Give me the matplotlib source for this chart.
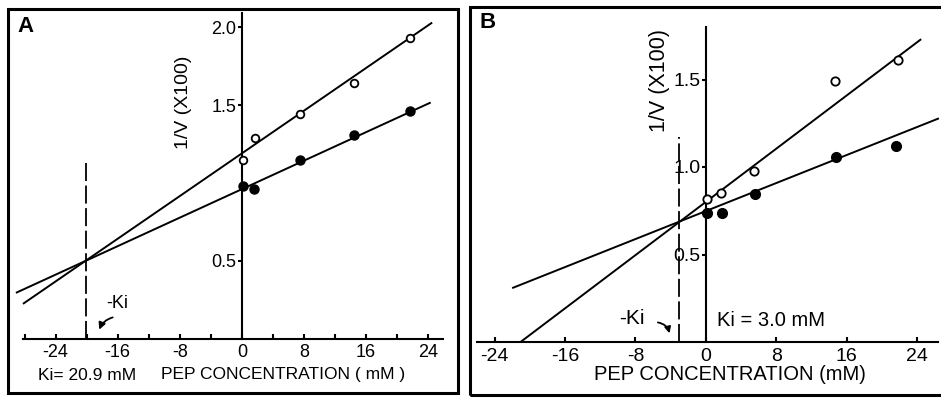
import numpy as np
import matplotlib
matplotlib.use("Agg")
import matplotlib.pyplot as plt
from matplotlib.patches import Rectangle

# Panel A data (PEP concentration in mM, 1/V x100)
pep_a_open = [0.2, 1.7, 7.5, 14.5, 21.7]
inv_v_a_open = [1.15, 1.29, 1.44, 1.64, 1.93]
pep_a_filled = [0.2, 1.6, 7.5, 14.5, 21.7]
inv_v_a_filled = [0.98, 0.96, 1.15, 1.31, 1.46]
# fitted lines: (intercept, slope, x_start, x_end)
fit_a_open = (1.19, 0.0343, -28.1, 24.4)
fit_a_filled = (0.96, 0.0229, -29.0, 24.2)
ki_a = -20.1

# Panel B data
pep_b_open = [0.1, 1.7, 5.5, 14.7, 21.8]
inv_v_b_open = [0.815, 0.85, 0.98, 1.49, 1.61]
pep_b_filled = [0.1, 1.9, 5.6, 14.8, 21.6]
inv_v_b_filled = [0.735, 0.74, 0.845, 1.055, 1.12]
fit_b_open = (0.80, 0.0380, -20.9, 24.4)
fit_b_filled = (0.748, 0.0200, -21.9, 26.4)
ki_b = -3.0

W, H = 941, 398
plt.rcParams["font.family"] = ["Liberation Sans", "DejaVu Sans"]


def fx(px):
    return px / W


def fy(py):
    return 1 - py / H


def draw_fit(ax, fit):
    b, m, x0, x1 = fit
    xs = np.array([x0, x1])
    ax.plot(xs, b + m * xs, color="black", lw=1.4, clip_on=False)


def style_axes(ax, xlim, ylim, xticks, minor, yticks, fs):
    ax.set_xlim(*xlim)
    ax.set_ylim(*ylim)
    ax.set_facecolor("none")
    for s in ["top", "right"]:
        ax.spines[s].set_visible(False)
    ax.spines["left"].set_position(("data", 0))
    ax.spines["left"].set_linewidth(1.5)
    ax.spines["bottom"].set_linewidth(1.5)
    ax.set_xticks(xticks)
    ax.set_xticklabels([str(t) for t in xticks])
    if minor:
        ax.set_xticks(minor, minor=True)
    ax.set_yticks(yticks)
    ax.set_yticklabels([f"{t:.1f}" for t in yticks])
    ax.tick_params(axis="x", which="both", direction="in", length=3.5, width=1.5,
                   labelsize=fs, pad=4)
    ax.tick_params(axis="y", direction="out", length=3, width=1.5,
                   labelsize=fs, pad=1)


fig = plt.figure(figsize=(W / 100, H / 100), dpi=100)

# panel borders
fig.add_artist(Rectangle((fx(8), fy(393)), fx(458) - fx(8), fy(9) - fy(393),
                         transform=fig.transFigure, fill=False, lw=2.2, color="black"))
fig.add_artist(Rectangle((fx(470), fy(395)), fx(950) - fx(470), fy(7) - fy(395),
                         transform=fig.transFigure, fill=False, lw=2.2, color="black"))

# ---- Panel A ----
axA = fig.add_axes([fx(23), fy(338.5), fx(443) - fx(23), fy(13) - fy(338.5)])
style_axes(axA, (-28.2, 25.9), (0, 2.092), [-24, -16, -8, 0, 8, 16, 24],
           list(range(-28, 28, 4)), [0.5, 1.5, 2.0], 13)
draw_fit(axA, fit_a_open)
draw_fit(axA, fit_a_filled)
axA.plot(pep_a_open, inv_v_a_open, "o", ms=5.5, mfc="white", mec="black", mew=1.3, zorder=3)
axA.plot(pep_a_filled, inv_v_a_filled, "o", ms=6.5, mfc="black", mec="black", zorder=3)
axA.plot([ki_a, ki_a], [0, 1.125], color="black", lw=1.3, dashes=(10, 2.5))
axA.text(-16.1, 0.222, "-Ki", fontsize=13, ha="center", va="center")
axA.annotate("", xy=(-18.5, 0.04), xytext=(-16.3, 0.14),
             arrowprops=dict(arrowstyle="-|>", color="black", lw=1.3,
                             connectionstyle="arc3,rad=0.3", mutation_scale=10))
fig.text(fx(87), fy(375), "Ki= 20.9 mM", fontsize=12.5, ha="center", va="center")
fig.text(fx(283), fy(375), "PEP CONCENTRATION ( mM )", fontsize=12.5, ha="center", va="center")
fig.text(fx(183), fy(102), "1/V (X100)", fontsize=14, ha="center", va="center", rotation=90)
fig.text(fx(26), fy(26), "A", fontsize=16, fontweight="bold", ha="center", va="center")

# ---- Panel B ----
axB = fig.add_axes([fx(477), fy(342), fx(938) - fx(477), fy(27) - fy(342)])
style_axes(axB, (-26.0, 26.4), (0, 1.80), [-24, -16, -8, 0, 8, 16, 24],
           None, [0.5, 1.0, 1.5], 14)
draw_fit(axB, fit_b_open)
draw_fit(axB, fit_b_filled)
axB.plot(pep_b_open, inv_v_b_open, "o", ms=6, mfc="white", mec="black", mew=1.3, zorder=3)
axB.plot(pep_b_filled, inv_v_b_filled, "o", ms=7, mfc="black", mec="black", zorder=3)
axB.plot([ki_b, ki_b], [0, 1.17], color="black", lw=1.3, dashes=(10, 2.5))
axB.text(-8.4, 0.137, "-Ki", fontsize=15, ha="center", va="center")
axB.annotate("", xy=(-4.06, 0.034), xytext=(-5.75, 0.114),
             arrowprops=dict(arrowstyle="-|>", color="black", lw=1.3,
                             connectionstyle="arc3,rad=-0.4", mutation_scale=9))
axB.text(7.4, 0.12, "Ki = 3.0 mM", fontsize=14.5, ha="center", va="center")
fig.text(fx(730), fy(375), "PEP CONCENTRATION (mM)", fontsize=14.5, ha="center", va="center")
fig.text(fx(660), fy(80), "1/V (X100)", fontsize=15.5, ha="center", va="center", rotation=90)
fig.text(fx(488), fy(22), "B", fontsize=16, fontweight="bold", ha="center", va="center")

fig.savefig("out.png", dpi=100)
